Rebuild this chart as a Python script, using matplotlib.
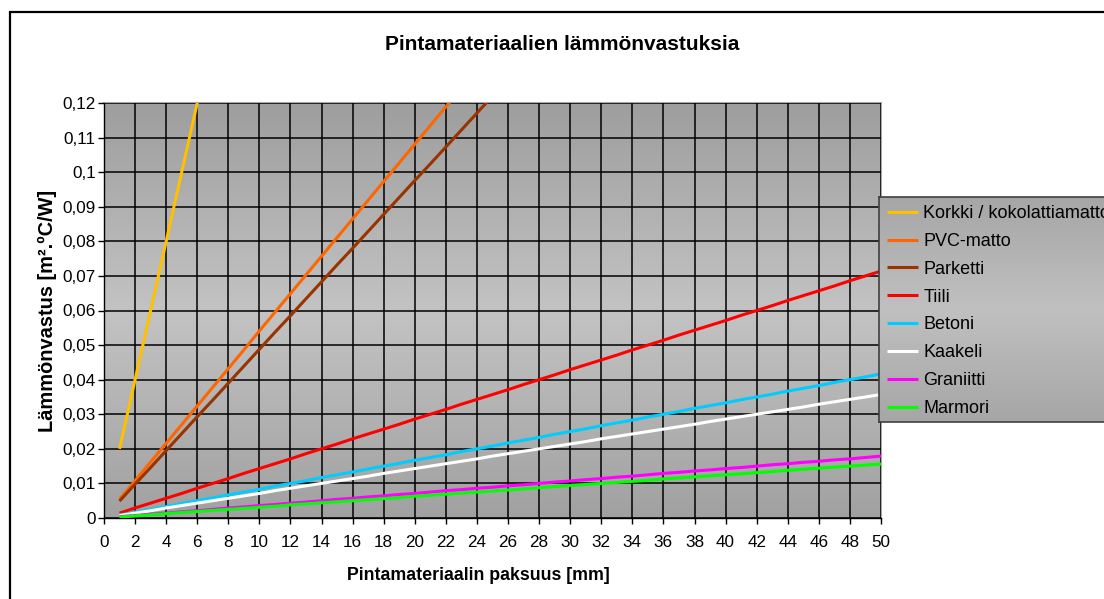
import numpy as np
import matplotlib
matplotlib.use("Agg")
import matplotlib.pyplot as plt
from matplotlib.colors import LinearSegmentedColormap
from matplotlib.patches import Rectangle
from matplotlib.ticker import MultipleLocator, FuncFormatter

plt.rcParams['font.family'] = ['Liberation Sans', 'DejaVu Sans']

# Thickness of the surface material [mm]
thickness = list(range(1, 51))

# Thermal resistance [m2.ºC/W] per material
korkki = [0.02, 0.04, 0.06, 0.08, 0.10, 0.12, 0.14]
pvc = [0.0054, 0.0108, 0.0162, 0.0216, 0.0270, 0.0324, 0.0378, 0.0432, 0.0486, 0.0541,
       0.0595, 0.0649, 0.0703, 0.0757, 0.0811, 0.0865, 0.0919, 0.0973, 0.1027, 0.1081,
       0.1135, 0.1189, 0.1243, 0.1297]
parketti = [0.0049, 0.0098, 0.0146, 0.0195, 0.0244, 0.0293, 0.0341, 0.0390, 0.0439, 0.0488,
            0.0537, 0.0585, 0.0634, 0.0683, 0.0732, 0.0780, 0.0829, 0.0878, 0.0927, 0.0976,
            0.1024, 0.1073, 0.1122, 0.1171, 0.1220, 0.1268]
tiili = [0.0014, 0.0029, 0.0043, 0.0057, 0.0071, 0.0086, 0.0100, 0.0114, 0.0129, 0.0143,
         0.0157, 0.0171, 0.0186, 0.0200, 0.0214, 0.0229, 0.0243, 0.0257, 0.0271, 0.0286,
         0.0300, 0.0314, 0.0329, 0.0343, 0.0357, 0.0371, 0.0386, 0.0400, 0.0414, 0.0429,
         0.0443, 0.0457, 0.0471, 0.0486, 0.0500, 0.0514, 0.0529, 0.0543, 0.0557, 0.0571,
         0.0586, 0.0600, 0.0614, 0.0629, 0.0643, 0.0657, 0.0671, 0.0686, 0.0700, 0.0714]
betoni = [0.0008, 0.0017, 0.0025, 0.0033, 0.0042, 0.0050, 0.0058, 0.0067, 0.0075, 0.0083,
          0.0092, 0.0100, 0.0108, 0.0117, 0.0125, 0.0133, 0.0142, 0.0150, 0.0158, 0.0167,
          0.0175, 0.0183, 0.0192, 0.0200, 0.0208, 0.0217, 0.0225, 0.0233, 0.0242, 0.0250,
          0.0258, 0.0267, 0.0275, 0.0283, 0.0292, 0.0300, 0.0308, 0.0317, 0.0325, 0.0333,
          0.0342, 0.0350, 0.0358, 0.0367, 0.0375, 0.0383, 0.0392, 0.0400, 0.0408, 0.0417]
kaakeli = [0.0007, 0.0014, 0.0021, 0.0029, 0.0036, 0.0043, 0.0050, 0.0057, 0.0064, 0.0071,
           0.0079, 0.0086, 0.0093, 0.0100, 0.0107, 0.0114, 0.0121, 0.0129, 0.0136, 0.0143,
           0.0150, 0.0157, 0.0164, 0.0171, 0.0179, 0.0186, 0.0193, 0.0200, 0.0207, 0.0214,
           0.0221, 0.0229, 0.0236, 0.0243, 0.0250, 0.0257, 0.0264, 0.0271, 0.0279, 0.0286,
           0.0293, 0.0300, 0.0307, 0.0314, 0.0321, 0.0329, 0.0336, 0.0343, 0.0350, 0.0357]
graniitti = [0.0004, 0.0007, 0.0011, 0.0014, 0.0018, 0.0021, 0.0025, 0.0029, 0.0032, 0.0036,
             0.0039, 0.0043, 0.0046, 0.0050, 0.0054, 0.0057, 0.0061, 0.0064, 0.0068, 0.0071,
             0.0075, 0.0079, 0.0082, 0.0086, 0.0089, 0.0093, 0.0096, 0.0100, 0.0104, 0.0107,
             0.0111, 0.0114, 0.0118, 0.0121, 0.0125, 0.0129, 0.0132, 0.0136, 0.0139, 0.0143,
             0.0146, 0.0150, 0.0154, 0.0157, 0.0161, 0.0164, 0.0168, 0.0171, 0.0175, 0.0179]
marmori = [0.0003, 0.0006, 0.0009, 0.0013, 0.0016, 0.0019, 0.0022, 0.0025, 0.0028, 0.0031,
           0.0034, 0.0038, 0.0041, 0.0044, 0.0047, 0.0050, 0.0053, 0.0056, 0.0059, 0.0063,
           0.0066, 0.0069, 0.0072, 0.0075, 0.0078, 0.0081, 0.0084, 0.0088, 0.0091, 0.0094,
           0.0097, 0.0100, 0.0103, 0.0106, 0.0109, 0.0113, 0.0116, 0.0119, 0.0122, 0.0125,
           0.0128, 0.0131, 0.0134, 0.0138, 0.0141, 0.0144, 0.0147, 0.0150, 0.0153, 0.0156]

series_names = ["Korkki / kokolattiamatto", "PVC-matto", "Parketti", "Tiili",
                "Betoni", "Kaakeli", "Graniitti", "Marmori"]
series_values = [korkki, pvc, parketti, tiili, betoni, kaakeli, graniitti, marmori]
series_colors = ["#FFC000", "#FF6600", "#993300", "#FF0000",
                 "#00CCFF", "#FFFFFF", "#FF00FF", "#00FF00"]

W, H = 1104, 599
fig = plt.figure(figsize=(W / 100, H / 100), dpi=100)
fig.patch.set_facecolor("white")

# Outer chart frame (runs off the right and bottom edges)
fig.patches.append(Rectangle((10 / W, -0.1), 1.2, (H - 12) / H + 0.1,
                             transform=fig.transFigure, fill=False,
                             edgecolor="black", linewidth=1.6, zorder=0))

ax = fig.add_axes([104 / W, (H - 518) / H, (881 - 104) / W, (518 - 103) / H])
ax.set_facecolor("none")

# Vertical grey gradient, lighter in the middle
grad_cmap = LinearSegmentedColormap.from_list(
    "excel_grey", ["#9e9e9e", "#c3c3c3", "#a1a1a1"])
g = np.linspace(0, 1, 256).reshape(-1, 1)
ax.imshow(g, extent=[0, 1, 0, 1], transform=ax.transAxes, aspect="auto",
          cmap=grad_cmap, zorder=0, interpolation="bicubic")

for name, vals, col in zip(series_names, series_values, series_colors):
    ax.plot(thickness[:len(vals)], vals, color=col, linewidth=2.2,
            label=name, zorder=3, solid_capstyle="butt")

ax.set_xlim(0, 50)
ax.set_ylim(0, 0.12)
ax.xaxis.set_major_locator(MultipleLocator(2))
ax.yaxis.set_major_locator(MultipleLocator(0.01))


def fi_fmt(v, pos):
    s = ("%.2f" % v).rstrip("0").rstrip(".")
    return s.replace(".", ",")


ax.yaxis.set_major_formatter(FuncFormatter(fi_fmt))
ax.grid(True, color="black", linewidth=1.1, zorder=1)
ax.set_axisbelow(False)
for gl in ax.get_xgridlines() + ax.get_ygridlines():
    gl.set_zorder(1)

ax.tick_params(direction="out", length=4, width=1.0, colors="black",
               labelsize=12.3, pad=2)
ax.tick_params(axis="x", pad=8)
for side in ("left", "bottom"):
    ax.spines[side].set_color("black")
    ax.spines[side].set_linewidth(1.0)
for side in ("top", "right"):
    ax.spines[side].set_color("#a8a8a8")
    ax.spines[side].set_linewidth(1.5)

fig.text(478 / W, (H - 576) / H, "Pintamateriaalin paksuus [mm]",
         ha="center", va="center", fontsize=12.8, fontweight="bold")
ax.set_ylabel("Lämmönvastus [m².ºC/W]", fontsize=14.4,
              fontweight="bold", labelpad=4)
fig.text(562 / W, (H - 45) / H, "Pintamateriaalien lämmönvastuksia",
         ha="center", va="center", fontsize=15, fontweight="bold")

# Legend box with its own gradient background
lax = fig.add_axes([879 / W, (H - 422) / H, (1120 - 879) / W, (422 - 197) / H])
lax.imshow(g, extent=[0, 1, 0, 1], aspect="auto",
           cmap=LinearSegmentedColormap.from_list(
               "leg_grey", ["#a6a6a6", "#c0c0c0", "#a6a6a6"]),
           interpolation="bicubic", zorder=0)
lax.set_xlim(0, 1)
lax.set_ylim(0, 1)
lax.set_xticks([])
lax.set_yticks([])
for sp in lax.spines.values():
    sp.set_color("#404040")
    sp.set_linewidth(1.2)

handles, labels = ax.get_legend_handles_labels()
leg = lax.legend(handles, labels, loc="upper left",
                 bbox_to_anchor=(0.0, 1.0), frameon=False, fontsize=13,
                 handlelength=1.72, handletextpad=0.28, labelspacing=0.6,
                 borderaxespad=0.0, borderpad=0.45)

fig.savefig("out.png", dpi=100)
